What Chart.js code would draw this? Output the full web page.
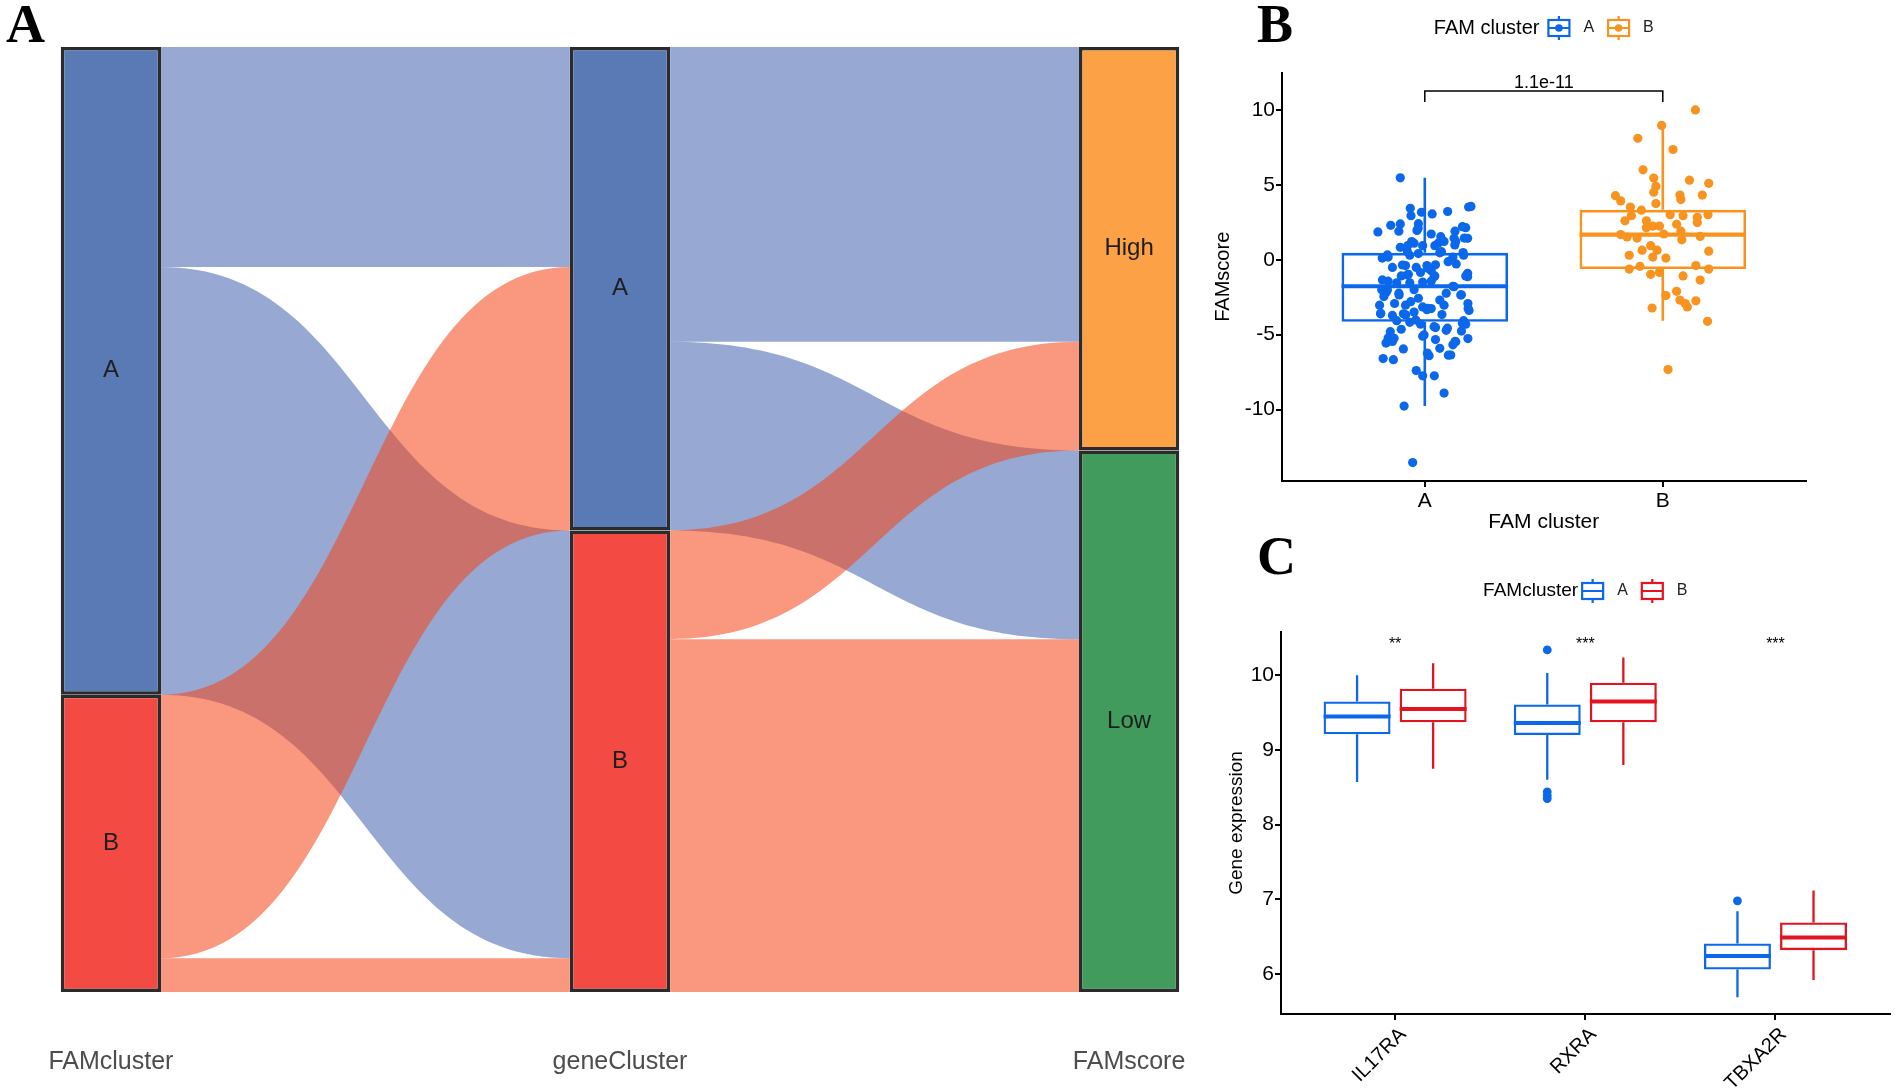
<!DOCTYPE html>
<html>
<head>
<meta charset="utf-8">
<script src="https://cdn.jsdelivr.net/npm/chart.js@4.4.0/dist/chart.umd.min.js"></script>
<style>
  html, body { margin: 0; padding: 0; background: #fff; }
  body { width: 1895px; height: 1091px; position: relative; overflow: hidden; }
  canvas { position: absolute; }
  #alluvial { left: 0; top: 0; }
  #famBox { left: 1180px; top: 0; }
  #geneBox { left: 1180px; top: 520px; }
</style>
</head>
<body>
<canvas id="alluvial" width="1200" height="1091"></canvas>
<canvas id="famBox" width="715" height="545"></canvas>
<canvas id="geneBox" width="715" height="571"></canvas>
<script>
// ===== panel A : alluvial =====
const alluvialAxes = ['FAMcluster', 'geneCluster', 'FAMscore'];
const famClusterLevels = ['A', 'B'];
const geneClusterLevels = ['A', 'B'];
const famScoreLevels = ['High', 'Low'];
const famToGene = [[91, 177], [109, 14]];    // rows FAMcluster, cols geneCluster
const geneToScore = [[122, 78], [45, 146]];  // rows geneCluster, cols FAMscore

// ===== panel B : FAMscore by FAM cluster =====
const famGroups = ['A', 'B'];
const famTicks = [-10, -5, 0, 5, 10];
const famMin = [-9.77, -4.07];
const famQ1 = [-4.14, -0.62];
const famMedian = [-1.77, 1.68];
const famQ3 = [0.46, 3.33];
const famMax = [5.47, 8.97];
const famPValue = '1.1e-11';
const scoreA = [5.47, 3.43, 2.94, 3.06, 3.22, 3.52, 3.56, 1.86, 2.30, 2.39, 1.91, 2.41, 1.95, 1.72, 1.54, 1.91, 2.14, 1.45, 1.22,
  0.83, 0.94, 1.10, 0.94, 0.94, 1.22, 0.11, 0.18, 0.30, 0.41, 0.46, 0.18, 0.30, -0.51, -0.39, -0.51, -0.39, -0.34, -0.28,
  -1.08, -1.08, -0.97, -0.85, -0.74, -1.08, -1.43, -1.54, -1.54, -1.49, -1.43, -1.77, -2.00, -2.18, -2.23, -2.00, -2.23,
  -2.34, -2.46, -2.57, -2.69, -3.03, -2.92, -3.03, -3.15, -3.26, -3.03, -2.92, -3.38, -3.61, -3.72, -3.61, -3.49, -3.33,
  -3.66, -4.07, -4.30, -4.07, -4.18, -4.30, -4.80, -4.64, -4.53, -4.71, -4.76, -5.22, -5.45, -5.10, -5.33, -5.45, -5.26,
  -5.56, -5.95, -5.91, -5.68, -6.37, -6.41, -6.60, -6.67, -7.40, -7.75, -7.75, -8.90, -9.77, -13.54,
  3.17, 2.10, 2.21, 1.43, 1.43, 1.21, 1.10, 0.99, 0.32, 0.54, 0.54, 0.48, -0.35, -0.57, -0.13, -0.90,
  -1.35, -2.02, -1.01, -1.13, -1.80, -2.35, -1.13, -3.57, -2.35, -2.80, -3.24, -3.25, -3.68, -4.02, -5.47, -5.24,
  -5.02, -4.47, -4.57, -5.47, -6.36, -4.24, -6.24];
const jitterA = [-0.103, -0.061, -0.058, 0.031, 0.096, 0.184, 0.194, -0.197, -0.143, -0.103, -0.109, -0.027, -0.033, 0.027,
  0.067, 0.127, 0.172, 0.166, 0.130, -0.103, -0.072, -0.045, -0.009, 0.042, 0.081, -0.179, -0.154, -0.063, -0.027, 0.063,
  0.118, 0.163, -0.136, -0.081, -0.036, 0.009, 0.045, 0.132, 0.172, -0.099, -0.069, -0.018, 0.027, 0.042, -0.154, -0.118,
  -0.063, -0.009, 0.027, 0.118, -0.181, -0.163, -0.109, -0.045, 0.090, 0.154, -0.172, -0.027, 0.063, -0.190, -0.127,
  -0.081, -0.009, 0.027, 0.081, 0.181, 0.186, -0.186, -0.136, -0.090, -0.045, 0.009, 0.072, 0.163, 0.172, -0.118, -0.063,
  -0.018, -0.145, -0.099, 0.045, 0.090, 0.154, -0.154, -0.136, -0.009, 0.045, 0.127, 0.181, -0.163, -0.090, 0.063, 0.118,
  0.099, 0.018, -0.175, -0.132, -0.036, -0.009, 0.040, 0.081, -0.087, -0.051,
  -0.014, -0.028, 0.158, 0.180, 0.123, -0.055, 0.056, 0.126, -0.157, -0.073, 0.070, 0.161, -0.094, 0.013, 0.098, 0.180,
  -0.178, -0.157, -0.073, 0.039, 0.123, 0.151, 0.180, -0.185, -0.108, -0.059, 0.011, 0.182, -0.080, -0.038, -0.157, -0.129,
  -0.003, 0.039, 0.095, 0.130, 0.109, 0.158, 0.011];
const scoreB = [10.0, 8.97, 8.11, 7.36, 6.0, 5.45, 5.31, 5.10, 4.90, 4.51, 4.32, 4.02, 4.32, 4.28, 3.93, 3.52, 3.31, 3.75,
  3.01, 2.94, 2.83, 3.01, 2.94, 2.60, 2.60, 2.25, 2.14, 2.37, 2.25, 2.48, 1.68, 1.52, 1.45, 1.72, 1.91, 1.33, 1.56, 0.94,
  0.64, 0.64, 0.30, 0.11, 0.18, 0.57, -0.39, -0.62, -0.44, -0.97, -0.85, -1.08, -0.62, -1.36, -2.11, -2.39, -2.69, -2.92,
  -2.74, -3.15, -3.22, -4.11, -7.33];
const jitterB = [0.137, -0.005, -0.105, 0.043, -0.083, -0.038, 0.112, 0.193, -0.029, -0.038, 0.072, 0.076, 0.166, -0.199,
  -0.177, -0.136, -0.090, -0.029, 0.031, 0.085, 0.145, 0.190, -0.132, -0.159, -0.069, -0.042, -0.069, 0.058, -0.014, 0.145,
  -0.177, -0.150, -0.108, 0.004, 0.076, 0.080, 0.157, -0.051, -0.087, -0.024, -0.141, 0.013, -0.042, 0.193, 0.139, -0.141,
  -0.096, -0.051, -0.014, 0.085, 0.193, 0.157, 0.058, 0.013, 0.072, 0.094, 0.139, 0.103, -0.045, 0.188, 0.022];

// ===== panel C : gene expression =====
const genes = ['IL17RA', 'RXRA', 'TBXA2R'];
const geneTicks = [6, 7, 8, 9, 10];
const exprMinA = [8.57, 8.60, 5.69];
const exprQ1A = [9.21, 9.20, 6.06];
const exprMedA = [9.45, 9.36, 6.24];
const exprQ3A = [9.65, 9.61, 6.41];
const exprMaxA = [10.0, 10.03, 6.84];
const exprMinB = [8.75, 8.80, 5.92];
const exprQ1B = [9.37, 9.37, 6.32];
const exprMedB = [9.55, 9.65, 6.49];
const exprQ3B = [9.82, 9.90, 6.69];
const exprMaxB = [10.16, 10.24, 7.12];
const outlierGeneA = ['RXRA', 'RXRA', 'RXRA', 'RXRA', 'TBXA2R'];
const outlierValueA = [10.34, 8.44, 8.39, 8.35, 6.98];
const sigLabels = ['**', '***', '***'];

const FONT = "'Liberation Sans', Arial, sans-serif";
Chart.defaults.font.family = FONT;
Chart.defaults.animation = false;

const BLUE = '#0b68ea', ORANGE = '#f7931e', RED = '#e2141f';

const sum = a => a.reduce((s, v) => s + v, 0);
const rowSums = m => m.map(sum);
const colSums = m => m[0].map((_, j) => sum(m.map(r => r[j])));

// ---------- shared plugins ----------
const panelLetter = {
  id: 'panelLetter',
  afterDraw(chart, args, o) {
    const ctx = chart.ctx;
    ctx.save();
    ctx.font = "bold 54px 'Liberation Serif', 'Times New Roman', serif";
    ctx.fillStyle = '#000';
    ctx.textBaseline = 'alphabetic';
    ctx.fillText(o.text, o.x, o.y);
    ctx.restore();
  }
};

const boxWhiskers = {
  id: 'boxWhiskers',
  beforeDatasetsDraw(chart) {
    const { ctx, scales: { y } } = chart;
    chart.data.datasets.forEach((ds, di) => {
      if (!ds.whiskers) return;
      const meta = chart.getDatasetMeta(di);
      meta.data.forEach((el, i) => {
        const color = Array.isArray(ds.borderColor) ? ds.borderColor[i] : ds.borderColor;
        const w = ds.whiskers;
        ctx.save();
        ctx.strokeStyle = color;
        ctx.lineWidth = ds.borderWidth;
        ctx.beginPath();
        ctx.moveTo(el.x, y.getPixelForValue(w.max[i]));
        ctx.lineTo(el.x, y.getPixelForValue(ds.data[i].y[1]));
        ctx.moveTo(el.x, y.getPixelForValue(ds.data[i].y[0]));
        ctx.lineTo(el.x, y.getPixelForValue(w.min[i]));
        ctx.stroke();
        ctx.lineWidth = w.medianWidth;
        const ym = y.getPixelForValue(w.med[i]);
        ctx.beginPath();
        ctx.moveTo(el.x - el.width / 2, ym);
        ctx.lineTo(el.x + el.width / 2, ym);
        ctx.stroke();
        ctx.restore();
      });
    });
  }
};

const boxLegend = {
  id: 'boxLegend',
  afterDraw(chart, args, o) {
    const { ctx, chartArea } = chart;
    ctx.save();
    ctx.textBaseline = 'middle';
    ctx.font = o.titleSize + 'px ' + FONT;
    const titleW = ctx.measureText(o.title).width;
    ctx.font = o.labelSize + 'px ' + FONT;
    const labelW = o.labels.map(l => ctx.measureText(l).width);
    const iconW = 23, gap = 13;
    const total = titleW + o.titleGap + sum(labelW.map(w => iconW + gap + w)) + gap * (o.labels.length - 1);
    let x = (chartArea.left + chartArea.right) / 2 - total / 2;
    const y = o.y;
    ctx.fillStyle = '#000';
    ctx.font = o.titleSize + 'px ' + FONT;
    ctx.fillText(o.title, x, y);
    x += titleW + o.titleGap;
    o.labels.forEach((lab, i) => {
      const c = o.colors[i];
      const cx = x + iconW / 2;
      ctx.strokeStyle = c;
      ctx.lineWidth = 2.2;
      ctx.beginPath();
      ctx.moveTo(cx, y - 12); ctx.lineTo(cx, y - 8);
      ctx.moveTo(cx, y + 8); ctx.lineTo(cx, y + 12);
      ctx.moveTo(x + 1, y); ctx.lineTo(x + iconW - 1, y);
      ctx.stroke();
      ctx.strokeRect(x + 1, y - 8, iconW - 2, 16);
      if (o.dot) {
        ctx.fillStyle = c;
        ctx.beginPath(); ctx.arc(cx, y, 3.8, 0, Math.PI * 2); ctx.fill();
      }
      x += iconW + gap;
      ctx.fillStyle = '#222';
      ctx.font = o.labelSize + 'px ' + FONT;
      ctx.fillText(lab, x, y);
      x += labelW[i] + gap;
    });
    ctx.restore();
  }
};

function axisStyle(extra) {
  return Object.assign({
    type: 'linear',
    offset: false,
    grid: { display: true, drawOnChartArea: false, drawTicks: true, tickLength: 6, color: '#000', lineWidth: 2, offset: false },
    border: { display: true, color: '#000', width: 2 }
  }, extra);
}

// ---------- panel A ----------
const strataTotals = [rowSums(famToGene), colSums(famToGene), colSums(geneToScore)];
const strataLevels = [famClusterLevels, geneClusterLevels, famScoreLevels];
const strataFill = [['#5a7ab6', '#f34a43'], ['#5a7ab6', '#f34a43'], ['#fca146', '#409b5d']];
const flowFill = ['rgba(66,97,175,0.55)', 'rgba(244,68,22,0.55)'];
const totalN = sum(strataTotals[0]);

const alluvialFlows = {
  id: 'alluvialFlows',
  beforeDatasetsDraw(chart) {
    const { ctx, scales: { x, y } } = chart;
    const half = chart.getDatasetMeta(0).data[0].width / 2;
    [famToGene, geneToScore].forEach((m, s) => {
      const srcOff = [0], tgtOff = [0];
      rowSums(m).forEach((v, i) => srcOff.push(srcOff[i] + v));
      colSums(m).forEach((v, j) => tgtOff.push(tgtOff[j] + v));
      const xs = x.getPixelForValue(s) + half;
      const xt = x.getPixelForValue(s + 1) - half;
      const xm = (xs + xt) / 2;
      m.forEach((row, i) => {
        row.forEach((v, j) => {
          const s0 = srcOff[i], t0 = tgtOff[j];
          srcOff[i] += v; tgtOff[j] += v;
          const ys0 = y.getPixelForValue(s0), ys1 = y.getPixelForValue(s0 + v);
          const yt0 = y.getPixelForValue(t0), yt1 = y.getPixelForValue(t0 + v);
          ctx.save();
          ctx.fillStyle = flowFill[i];
          ctx.beginPath();
          ctx.moveTo(xs, ys0);
          ctx.bezierCurveTo(xm, ys0, xm, yt0, xt, yt0);
          ctx.lineTo(xt, yt1);
          ctx.bezierCurveTo(xm, yt1, xm, ys1, xs, ys1);
          ctx.closePath();
          ctx.fill();
          ctx.restore();
        });
      });
    });
  },
  afterDatasetsDraw(chart) {
    const ctx = chart.ctx;
    ctx.save();
    ctx.font = '24px ' + FONT;
    ctx.fillStyle = '#1e1e1e';
    ctx.textAlign = 'center';
    ctx.textBaseline = 'middle';
    [0, 1].forEach(k => {
      chart.getDatasetMeta(k).data.forEach((el, a) => {
        ctx.fillText(strataLevels[a][k], el.x, (el.y + el.base) / 2);
      });
    });
    ctx.restore();
  }
};

new Chart(document.getElementById('alluvial'), {
  type: 'bar',
  data: {
    datasets: [0, 1].map(k => ({
      data: strataTotals.map((t, a) => ({ x: a, y: k === 0 ? [0, t[0]] : [t[0], t[0] + t[1]] })),
      backgroundColor: strataFill.map(c => c[k]),
      borderColor: '#2b2b2b',
      borderWidth: 3.5,
      borderSkipped: false,
      grouped: false,
      barPercentage: 0.197,
      categoryPercentage: 1
    }))
  },
  options: {
    responsive: false,
    layout: { padding: { left: 60, right: 20, top: 47, bottom: 14 } },
    plugins: { legend: { display: false }, tooltip: { enabled: false }, panelLetter: { text: 'A', x: 6, y: 42 } },
    scales: {
      x: {
        type: 'linear', min: -0.1, max: 2.1, offset: false,
        grid: { display: false, drawTicks: false, offset: false },
        border: { display: false },
        afterBuildTicks: s => { s.ticks = alluvialAxes.map((_, i) => ({ value: i })); },
        afterFit: s => { s.height = 85; s.paddingLeft = 0; s.paddingRight = 0; },
        ticks: { callback: v => alluvialAxes[v], color: '#4d4d4d', font: { size: 25 }, padding: 55, maxRotation: 0, autoSkip: false }
      },
      y: { type: 'linear', display: false, min: 0, max: totalN, reverse: true }
    }
  },
  plugins: [alluvialFlows, panelLetter]
});

// ---------- panel B ----------
const sigBracket = {
  id: 'sigBracket',
  afterDatasetsDraw(chart, args, o) {
    const { ctx, scales: { x, y } } = chart;
    const x1 = x.getPixelForValue(o.from), x2 = x.getPixelForValue(o.to);
    const yt = y.getPixelForValue(o.top), yb = y.getPixelForValue(o.tip);
    ctx.save();
    ctx.strokeStyle = '#000';
    ctx.lineWidth = 1.5;
    ctx.beginPath();
    ctx.moveTo(x1, yb); ctx.lineTo(x1, yt); ctx.lineTo(x2, yt); ctx.lineTo(x2, yb);
    ctx.stroke();
    ctx.fillStyle = '#000';
    ctx.font = '18px ' + FONT;
    ctx.textAlign = 'center';
    ctx.textBaseline = 'alphabetic';
    ctx.fillText(o.label, (x1 + x2) / 2, y.getPixelForValue(o.labelY));
    ctx.restore();
  }
};

new Chart(document.getElementById('famBox'), {
  type: 'bar',
  data: {
    datasets: [
      { type: 'scatter', data: scoreA.map((v, i) => ({ x: 1 + jitterA[i], y: v })), backgroundColor: BLUE, pointRadius: 4.6, borderWidth: 0, order: 0 },
      { type: 'scatter', data: scoreB.map((v, i) => ({ x: 2 + jitterB[i], y: v })), backgroundColor: ORANGE, pointRadius: 4.6, borderWidth: 0, order: 0 },
      {
        type: 'bar',
        data: famGroups.map((g, i) => ({ x: i + 1, y: [famQ1[i], famQ3[i]] })),
        backgroundColor: 'rgba(0,0,0,0)',
        borderColor: [BLUE, ORANGE],
        borderWidth: 2.6,
        borderSkipped: false,
        grouped: false,
        barPercentage: 0.7,
        categoryPercentage: 1,
        order: 1,
        whiskers: { min: famMin, med: famMedian, max: famMax, medianWidth: 4.2 }
      }
    ]
  },
  options: {
    responsive: false,
    layout: { padding: { left: 31, right: 89.4, top: 72.5, bottom: 10 } },
    plugins: {
      legend: { display: false }, tooltip: { enabled: false },
      panelLetter: { text: 'B', x: 77, y: 42 },
      boxLegend: { title: 'FAM cluster', labels: famGroups, colors: [BLUE, ORANGE], dot: true, y: 28, titleSize: 20, labelSize: 16, titleGap: 8 },
      sigBracket: { from: 1, to: 2, top: 11.27, tip: 10.53, labelY: 11.45, label: famPValue }
    },
    scales: {
      x: axisStyle({
        min: 0.4, max: 2.6,
        afterBuildTicks: s => { s.ticks = famGroups.map((_, i) => ({ value: i + 1 })); },
        afterFit: s => { s.height = 54; },
        ticks: { callback: v => famGroups[v - 1], color: '#000', font: { size: 21 }, padding: 2, maxRotation: 0, autoSkip: false },
        title: { display: true, text: 'FAM cluster', color: '#000', font: { size: 21 }, padding: 0 }
      }),
      y: axisStyle({
        min: -14.77, max: 12.5,
        afterBuildTicks: s => { s.ticks = famTicks.map(v => ({ value: v })); },
        afterFit: s => { s.width = 71; },
        ticks: { callback: v => String(v), color: '#000', font: { size: 21 }, padding: 1 },
        title: { display: true, text: 'FAMscore', color: '#000', font: { size: 20 }, padding: 0 }
      })
    }
  },
  plugins: [boxWhiskers, sigBracket, boxLegend, panelLetter]
});

// ---------- panel C ----------
const sigStars = {
  id: 'sigStars',
  afterDatasetsDraw(chart, args, o) {
    const { ctx, scales: { x, y } } = chart;
    ctx.save();
    ctx.fillStyle = '#000';
    ctx.font = '16px ' + FONT;
    ctx.textAlign = 'center';
    ctx.textBaseline = 'alphabetic';
    o.labels.forEach((lab, i) => ctx.fillText(lab, x.getPixelForValue(i + 1), y.getPixelForValue(o.y)));
    ctx.restore();
  }
};

const dodge = 0.2;
function exprBox(q1, q3, mn, md, mx, shift, color) {
  return {
    type: 'bar',
    data: genes.map((g, i) => ({ x: i + 1 + shift, y: [q1[i], q3[i]] })),
    backgroundColor: 'rgba(0,0,0,0)',
    borderColor: color,
    borderWidth: 2.3,
    borderSkipped: false,
    grouped: false,
    barPercentage: 0.88,
    categoryPercentage: 1,
    order: 1,
    whiskers: { min: mn, med: md, max: mx, medianWidth: 4 }
  };
}

new Chart(document.getElementById('geneBox'), {
  type: 'bar',
  data: {
    datasets: [
      { type: 'scatter', data: outlierGeneA.map((g, i) => ({ x: genes.indexOf(g) + 1 - dodge, y: outlierValueA[i] })), backgroundColor: BLUE, pointRadius: 4.4, borderWidth: 0, order: 0 },
      exprBox(exprQ1A, exprQ3A, exprMinA, exprMedA, exprMaxA, -dodge, BLUE),
      exprBox(exprQ1B, exprQ3B, exprMinB, exprMedB, exprMaxB, dodge, RED)
    ]
  },
  options: {
    responsive: false,
    layout: { padding: { left: 45.6, right: 5.4, top: 112, bottom: 0 } },
    plugins: {
      legend: { display: false }, tooltip: { enabled: false },
      panelLetter: { text: 'C', x: 77, y: 54 },
      boxLegend: { title: 'FAMcluster', labels: famGroups, colors: [BLUE, RED], dot: false, y: 71, titleSize: 19, labelSize: 16, titleGap: 3 },
      sigStars: { labels: sigLabels, y: 10.35 }
    },
    scales: {
      x: axisStyle({
        min: 0.4, max: 3.6,
        afterBuildTicks: s => { s.ticks = genes.map((_, i) => ({ value: i + 1 })); },
        afterFit: s => { s.height = 77; s.paddingLeft = 0; s.paddingRight = 0; },
        ticks: { callback: v => genes[v - 1], color: '#000', font: { size: 20 }, padding: 3, labelOffset: 8, minRotation: 45, maxRotation: 45, autoSkip: false }
      }),
      y: axisStyle({
        min: 5.465, max: 10.58,
        afterBuildTicks: s => { s.ticks = geneTicks.map(v => ({ value: v })); },
        afterFit: s => { s.width = 55.4; },
        ticks: { callback: v => String(v), color: '#000', font: { size: 21 }, padding: 1 },
        title: { display: true, text: 'Gene expression', color: '#000', font: { size: 19 }, padding: 0 }
      })
    }
  },
  plugins: [boxWhiskers, sigStars, boxLegend, panelLetter]
});
</script>
</body>
</html>
